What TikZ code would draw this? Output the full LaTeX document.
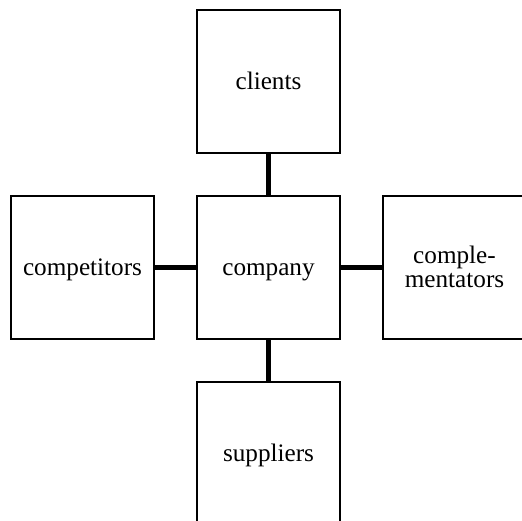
\documentclass[tikz,border=0pt]{standalone}
\usepackage{fontspec}
\setmainfont{Liberation Serif}
\usepackage{tikz}
\usetikzlibrary{positioning}

\begin{document}
\begin{tikzpicture}[
    actor/.style={draw, line width=1pt, minimum size=71.5pt, inner sep=0pt,
                  align=center, text height=8pt, text depth=0pt,
                  font=\fontsize{12.6}{12}\selectfont},
    link/.style={line width=2.5pt},
    node distance=20.5pt
    ]
    \useasboundingbox (0,0) rectangle (260.5pt,-260.5pt);
    \node[actor] (company) at (134.25pt,-133.5pt) {company};
    \node[actor, above=of company] (clients) {clients};
    \node[actor, below=of company] (suppliers) {suppliers};
    \node[actor, left=of company] (competitors) {competitors};
    \node[actor, right=of company, text height=20pt] (complementators) {comple-\\mentators};
    \foreach \n in {clients,suppliers,competitors,complementators}
    \draw[link] (company) -- (\n);
\end{tikzpicture}
\end{document}
